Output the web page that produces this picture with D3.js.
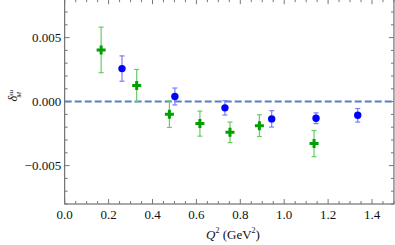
<!DOCTYPE html>
<html>
<head>
<meta charset="utf-8">
<script src="https://cdn.jsdelivr.net/npm/d3@7"></script>
<style>
  body { margin: 0; background: #fff; }
  svg { display: block; }
  text { font-family: 'Liberation Serif', 'Times New Roman', serif; }
</style>
</head>
<body>
<svg id="chart" width="395" height="245"></svg>
<script>
// data
const blueQ2 = [0.261, 0.502, 0.730, 0.943, 1.145, 1.335];
const blueVal = [0.00258, 0.00040, -0.00049, -0.00135, -0.00130, -0.00107];
const blueErr = [0.00099, 0.00066, 0.00056, 0.00064, 0.00042, 0.00053];

const greenQ2 = [0.166, 0.328, 0.477, 0.616, 0.753, 0.887, 1.136];
const greenVal = [0.00404, 0.00125, -0.00098, -0.00172, -0.00240, -0.00188, -0.00328];
const greenErr = [0.00178, 0.00126, 0.00104, 0.00098, 0.00080, 0.00085, 0.00102];

const xTicks = [0, 0.2, 0.4, 0.6, 0.8, 1.0, 1.2, 1.4];
const yTicks = [-0.005, 0, 0.005];

const svg = d3.select('#chart');
const plotLeft = 64.7, plotBottom = 204;

const x = d3.scaleLinear().domain([0, 1.5]).range([plotLeft, plotLeft + 219.5 * 1.5]);
const y = d3.scaleLinear().domain([-0.008, 0.008]).range([plotBottom, plotBottom - 12.8 * 16]);

// frame
svg.append('rect')
  .attr('x', plotLeft).attr('y', y(0.008))
  .attr('width', x(1.5) - plotLeft).attr('height', plotBottom - y(0.008))
  .attr('fill', 'none').attr('stroke', '#555').attr('stroke-width', 1);

// minor / major ticks
const tickColor = '#777';
d3.range(0, 1.5001, 0.05).forEach(v => {
  const major = Math.abs(v * 5 - Math.round(v * 5)) < 1e-6;
  const len = major ? 5 : 3;
  svg.append('line').attr('x1', x(v)).attr('x2', x(v))
    .attr('y1', plotBottom).attr('y2', plotBottom - len).attr('stroke', tickColor);
  svg.append('line').attr('x1', x(v)).attr('x2', x(v))
    .attr('y1', y(0.008)).attr('y2', y(0.008) + len).attr('stroke', tickColor);
});
d3.range(-0.008, 0.00801, 0.001).forEach(v => {
  const major = Math.abs(v * 200 - Math.round(v * 200)) < 1e-6;
  const len = major ? 5 : 3;
  svg.append('line').attr('y1', y(v)).attr('y2', y(v))
    .attr('x1', plotLeft).attr('x2', plotLeft + len).attr('stroke', tickColor);
  svg.append('line').attr('y1', y(v)).attr('y2', y(v))
    .attr('x1', x(1.5)).attr('x2', x(1.5) - len).attr('stroke', tickColor);
});

// tick labels
svg.selectAll('.xl').data(xTicks).enter().append('text')
  .attr('x', d => x(d)).attr('y', plotBottom + 15)
  .attr('text-anchor', 'middle').attr('font-size', 13).attr('fill', '#111')
  .text(d => d.toFixed(1));
svg.selectAll('.yl').data(yTicks).enter().append('text')
  .attr('x', plotLeft - 3.5).attr('y', d => y(d) + 4.5)
  .attr('text-anchor', 'end').attr('font-size', 13).attr('fill', '#111')
  .text(d => (d < 0 ? '\u2212' : '') + Math.abs(d).toFixed(3));

// axis titles
const xt = svg.append('text').attr('x', 233).attr('y', 239)
  .attr('text-anchor', 'middle').attr('font-size', 13).attr('fill', '#111');
xt.append('tspan').attr('font-style', 'italic').text('Q');
xt.append('tspan').attr('font-size', 8).attr('dy', -6).text('2');
xt.append('tspan').attr('dy', 6).text(' (GeV');
xt.append('tspan').attr('font-size', 8).attr('dy', -6).text('2');
xt.append('tspan').attr('dy', 6).text(')');

const yt = svg.append('text').attr('transform', `translate(17,${y(0) - 6}) rotate(-90)`)
  .attr('text-anchor', 'middle').attr('font-size', 12).attr('fill', '#111');
yt.append('tspan').attr('font-style', 'italic').text('δ');
yt.append('tspan').attr('font-size', 7).attr('font-style', 'italic').attr('dy', -4).text('su');
yt.append('tspan').attr('font-size', 7).attr('font-style', 'italic').attr('dx', -8).attr('dy', 8).text('M');

// zero line
svg.append('line').attr('x1', plotLeft).attr('x2', x(1.5))
  .attr('y1', y(0)).attr('y2', y(0))
  .attr('stroke', '#5a7fbf').attr('stroke-width', 2).attr('stroke-dasharray', '7,3');

// error bars
function errBars(xs, vs, es, color) {
  xs.forEach((q, i) => {
    const g = svg.append('g').attr('stroke', color).attr('stroke-width', 1.2);
    const px = x(q);
    g.append('line').attr('x1', px).attr('x2', px)
      .attr('y1', y(vs[i] + es[i])).attr('y2', y(vs[i] - es[i]));
    [vs[i] + es[i], vs[i] - es[i]].forEach(v => {
      g.append('line').attr('x1', px - 2.5).attr('x2', px + 2.5)
        .attr('y1', y(v)).attr('y2', y(v));
    });
  });
}
errBars(blueQ2, blueVal, blueErr, '#7b7bff');
errBars(greenQ2, greenVal, greenErr, '#66cc66');

// blue circles
svg.selectAll('.bc').data(blueQ2).enter().append('circle')
  .attr('cx', d => x(d)).attr('cy', (d, i) => y(blueVal[i]))
  .attr('r', 3.7).attr('fill', '#0000ff');

// green crosses
const sym = d3.symbol().type(d3.symbolCross).size(45);
svg.selectAll('.gc').data(greenQ2).enter().append('path')
  .attr('d', sym)
  .attr('transform', (d, i) => `translate(${x(d)},${y(greenVal[i])})`)
  .attr('fill', '#00a000');
</script>
</body>
</html>
